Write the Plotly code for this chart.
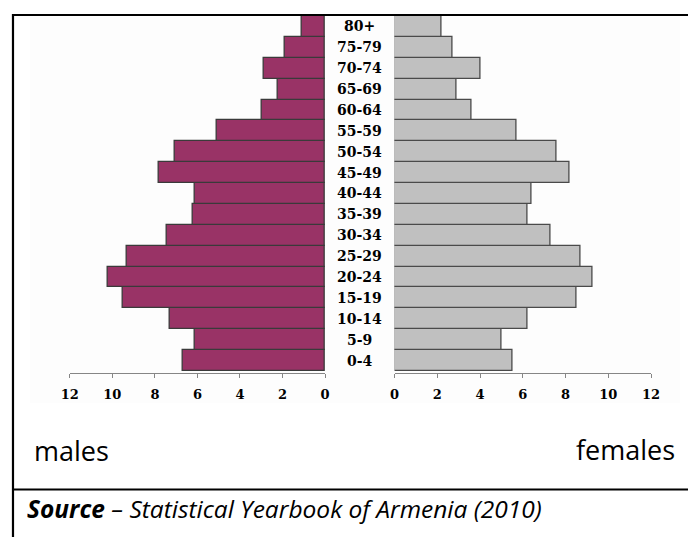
import plotly.graph_objects as go

W, H = 688, 537

ages = ["0-4", "5-9", "10-14", "15-19", "20-24", "25-29", "30-34", "35-39",
        "40-44", "45-49", "50-54", "55-59", "60-64", "65-69", "70-74", "75-79", "80+"]
males = [6.7, 6.1, 7.3, 9.5, 10.2, 9.3, 7.45, 6.2, 6.1, 7.8, 7.07, 5.1, 2.95, 2.2, 2.9, 1.9, 1.1]
females = [5.5, 5.0, 6.2, 8.5, 9.25, 8.7, 7.3, 6.2, 6.4, 8.2, 7.6, 5.7, 3.6, 2.9, 4.0, 2.7, 2.2]
tick_vals = [0, 2, 4, 6, 8, 10, 12]
tick_text = ["0", "2", "4", "6", "8", "10", "12"]
male_label = "males"
female_label = "females"
source_bold = "Source"
source_rest = " \u2013 Statistical Yearbook of Armenia (2010)"

# the rendered page shows the figure horizontally within [8, 680]; place things accordingly
X0, XW = 8.0, 672.0


def px(x):
    return (x - X0) / XW


def py(y):
    return 1 - y / H


fig = go.Figure()
fig.add_trace(go.Bar(
    y=ages, x=males, orientation="h", xaxis="x", yaxis="y",
    marker=dict(color="#993366", line=dict(color="#3a3a3a", width=1.3)),
    showlegend=False,
))
fig.add_trace(go.Bar(
    y=ages, x=females, orientation="h", xaxis="x2", yaxis="y2",
    marker=dict(color="#C0C0C0", line=dict(color="#4a4a4a", width=1.3)),
    showlegend=False,
))

ydom = [py(373), py(16)]
yrange = [-0.596, 16.5]
tickfont = dict(family="DejaVu Serif", size=13, color="black", weight="bold")
common_x = dict(
    showgrid=False, zeroline=False, showline=True, linecolor="#868686", linewidth=1,
    ticks="outside", ticklen=4, tickcolor="#868686", tickwidth=1,
    tickvals=tick_vals, ticktext=tick_text, tickfont=tickfont,
    ticklabelstandoff=5, fixedrange=True,
)

annotations = []
for a in ages:
    annotations.append(dict(
        x=px(360), xref="paper", y=a, yref="y", text=a, showarrow=False,
        xanchor="center", yanchor="middle",
        font=dict(family="DejaVu Serif", size=14, color="black", weight="bold"),
    ))
annotations.append(dict(
    x=px(31), xref="paper", y=py(450), yref="paper", text=male_label, showarrow=False,
    xanchor="left", yanchor="middle",
    font=dict(family="Open Sans", size=27, color="black"),
))
annotations.append(dict(
    x=px(678), xref="paper", y=py(449), yref="paper", text=female_label, showarrow=False,
    xanchor="right", yanchor="middle",
    font=dict(family="Open Sans", size=27, color="black"),
))
annotations.append(dict(
    x=px(24), xref="paper", y=py(508), yref="paper",
    text="<b><i>" + source_bold + "</i></b><i>" + source_rest + "</i>", showarrow=False,
    xanchor="left", yanchor="middle",
    font=dict(family="Open Sans", size=24.5, color="black"),
))

shapes = [
    # faint chart image background
    dict(type="rect", xref="paper", yref="paper", x0=px(29), x1=px(681), y0=py(403), y1=py(17),
         fillcolor="#FDFDFD", line=dict(width=0), layer="below"),
    # top border
    dict(type="line", xref="paper", yref="paper", x0=px(11), x1=px(700), y0=py(15), y1=py(15),
         line=dict(color="black", width=2.2)),
    # left border
    dict(type="line", xref="paper", yref="paper", x0=px(12), x1=px(12), y0=py(14), y1=py(540),
         line=dict(color="black", width=2.2)),
    # separator
    dict(type="line", xref="paper", yref="paper", x0=px(11), x1=px(700), y0=py(489.5), y1=py(489.5),
         line=dict(color="black", width=2.2)),
]

fig.update_layout(
    width=W, height=H, autosize=False,
    margin=dict(l=0, r=0, t=0, b=0),
    paper_bgcolor="white", plot_bgcolor="rgba(0,0,0,0)",
    bargap=0,
    xaxis=dict(domain=[px(69), px(325)], range=[12, 0], anchor="y", **common_x),
    xaxis2=dict(domain=[px(394.7), px(652)], range=[0, 12], anchor="y2", **common_x),
    yaxis=dict(domain=ydom, range=yrange, anchor="x", showticklabels=False, showgrid=False,
               zeroline=False, showline=False, ticks="", type="category",
               categoryorder="array", categoryarray=ages, fixedrange=True),
    yaxis2=dict(domain=ydom, range=yrange, anchor="x2", showticklabels=False, showgrid=False,
                zeroline=False, showline=False, ticks="", type="category",
                categoryorder="array", categoryarray=ages, matches="y", fixedrange=True),
    annotations=annotations,
    shapes=shapes,
)

fig.write_html(
    "out.html",
    config={"displayModeBar": False, "responsive": False},
    post_script="document.body.style.margin='0';document.body.style.overflow='hidden';",
)
